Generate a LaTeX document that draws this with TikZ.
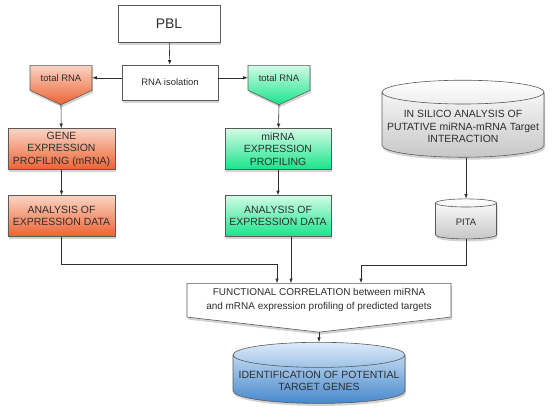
\documentclass[tikz,border=0pt]{standalone}
\usepackage{fontspec}
\setmainfont{Liberation Sans}
\usepackage{xcolor}
\usepackage{tikz}
\usetikzlibrary{shapes}
\usetikzlibrary{shapes.geometric}
\usetikzlibrary{shapes.symbols}
\usetikzlibrary{shadows}
\usetikzlibrary{arrows.meta}
\definecolor{peach}{HTML}{FAD4C4}
\definecolor{tomato}{HTML}{EE6232}
\definecolor{mint}{HTML}{D2FCE6}
\definecolor{jade}{HTML}{18E48A}
\definecolor{sky}{HTML}{DCEBFA}
\definecolor{steel}{HTML}{4688CC}
\definecolor{ink}{HTML}{2E2E2E}
\definecolor{rim}{HTML}{5A5A5A}
\tikzset{ box/.style = {rectangle, draw=rim, line width=0.6bp, text=ink, align=center, font=\fontsize{10.5}{12.6}\selectfont, drop shadow={opacity=0.35, shadow xshift=1bp, shadow yshift=-2.5bp}} }
\tikzset{ plain_box/.style = {box, fill=white} }
\tikzset{ orange_box/.style = {box, top color=peach, bottom color=tomato, minimum width=107bp, minimum height=41bp} }
\tikzset{ green_box/.style = {box, top color=mint, bottom color=jade, minimum width=106bp, minimum height=41bp} }
\tikzset{ total_rna/.style = {box, signal, signal to=south, signal pointer angle=130, minimum width=62bp, minimum height=36bp, inner ysep=1bp, anchor=north} }
\tikzset{ db/.style = {box, cylinder, shape border rotate=90, aspect=0.15} }
\tikzset{ arr/.style = {-{Latex[length=4.5bp,width=3.5bp]}, draw=ink, line width=0.6bp} }

\begin{document}
\begin{tikzpicture}[x=1bp,y=-1bp]
    \useasboundingbox (0,0) rectangle (558,417);
    \node[plain_box, minimum width=102bp, minimum height=37bp, font=\fontsize{14}{16}\selectfont] (PBL) at (169, 23.5) {PBL};
    \node[plain_box, minimum width=96bp, minimum height=35bp, font=\fontsize{9.5}{11}\selectfont] (ISO) at (170, 82.5) {RNA isolation};
    \node[total_rna, top color=peach, bottom color=tomato, font=\fontsize{9.5}{11}\selectfont] (LRNA) at (61, 65) {total RNA};
    \node[total_rna, top color=mint, bottom color=jade, font=\fontsize{9.5}{11}\selectfont] (RRNA) at (279, 65) {total RNA};
    \node[orange_box] (GENE) at (61.5, 149) {GENE\\EXPRESSION\\PROFILING (mRNA)};
    \node[orange_box] (LANA) at (61.5, 216) {ANALYSIS OF\\EXPRESSION DATA};
    \node[green_box] (MIR) at (278, 149) {miRNA\\EXPRESSION\\PROFILING};
    \node[green_box] (RANA) at (278, 216) {ANALYSIS OF\\EXPRESSION DATA};
    \node[db, top color=white, bottom color=black!22, minimum width=162bp, minimum height=77bp] (SILICO) at (463, 126.5) {IN SILICO ANALYSIS OF\\PUTATIVE miRNA-mRNA Target\\INTERACTION};
    \node[db, aspect=0.3, top color=white, bottom color=black!22, minimum width=61bp, minimum height=40bp, font=\fontsize{9.5}{11}\selectfont] (PITA) at (466, 222) {PITA};
    \node[box, fill=white, signal, signal to=south, signal pointer angle=167, minimum width=264bp, minimum height=47bp, inner ysep=2bp, anchor=north, font=\fontsize{10}{14}\selectfont] (FUNC) at (319, 283) {FUNCTIONAL CORRELATION between miRNA\\and mRNA expression profiling of predicted targets};
    \node[db, top color=sky, bottom color=steel, minimum width=172bp, minimum height=58bp] (TARGET) at (319, 381) {IDENTIFICATION OF POTENTIAL\\TARGET GENES};
    \draw[arr] (PBL) to (ISO);
    \draw[arr] (ISO.west |- LRNA.east) to (LRNA.east);
    \draw[arr] (ISO.east |- RRNA.west) to (RRNA.west);
    \draw[arr] (LRNA.south) to (GENE);
    \draw[arr] (RRNA.south) to (MIR);
    \draw[arr] (GENE) to (LANA);
    \draw[arr] (MIR) to (RANA);
    \draw[arr] (LANA.south) -- ++(0,27) -| ([xshift=-42bp]FUNC.north);
    \draw[arr] ([xshift=-28bp]FUNC.north |- RANA.south) to ([xshift=-28bp]FUNC.north);
    \draw[arr] (SILICO.south -| PITA.north) to (PITA.north);
    \draw[arr] (PITA.south) -- ++(0,26) -| ([xshift=42bp]FUNC.north);
    \draw[arr] (FUNC.south) to (TARGET.north);
\end{tikzpicture}
\end{document}
